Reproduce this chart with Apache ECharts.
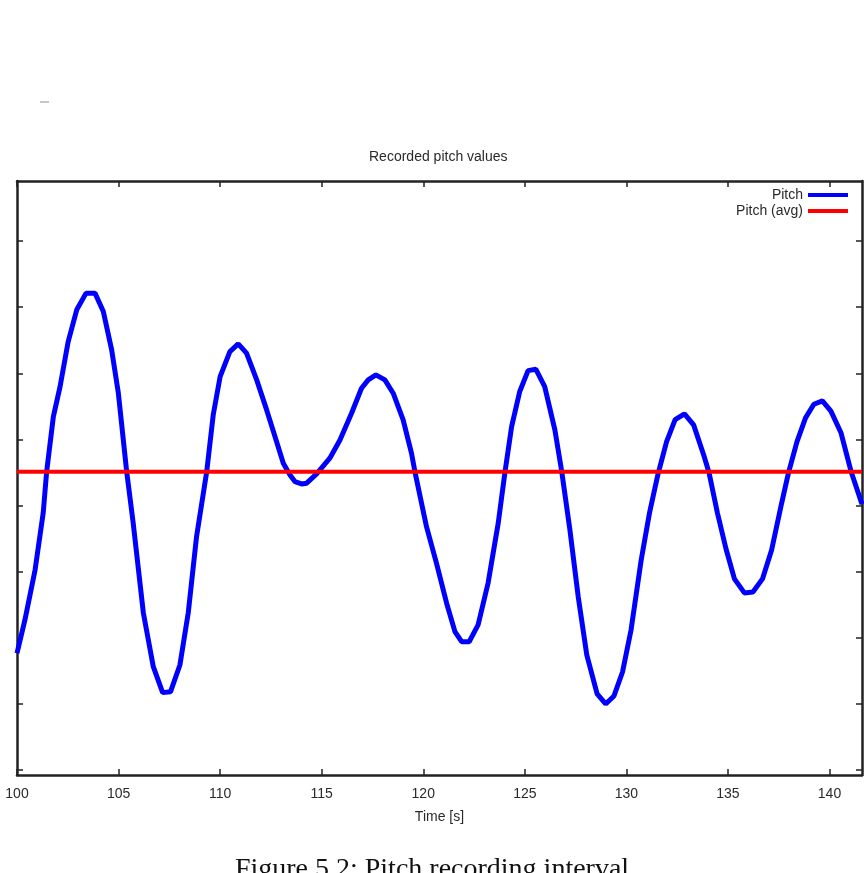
<!DOCTYPE html>
<html>
<head>
<meta charset="utf-8">
<title>Recorded pitch values</title>
<script src="https://cdn.jsdelivr.net/npm/echarts@6/dist/echarts.min.js"></script>
<style>
  html, body { margin: 0; padding: 0; background: #fff; }
  #chart { width: 864px; height: 873px; }
</style>
</head>
<body>
<div id="chart"></div>
<script>
// pitch samples (time in s, pitch in deg)
const timeS = [
  100.0, 100.39, 100.89, 101.29, 101.46, 101.79, 102.12, 102.52, 102.94, 103.4,
  103.84, 104.25, 104.66, 104.99, 105.4, 105.72, 106.22, 106.71, 107.17, 107.56,
  108.02, 108.43, 108.84, 109.34, 109.66, 110.0, 110.48, 110.89, 111.3, 111.8,
  112.29, 112.7, 113.11, 113.44, 113.68, 114.01, 114.26, 114.75, 115.4, 115.9,
  116.47, 116.96, 117.29, 117.67, 118.11, 118.52, 119.01, 119.42, 119.59, 120.16,
  120.65, 121.15, 121.56, 121.89, 122.26, 122.7, 123.19, 123.69, 124.02, 124.35,
  124.75, 125.16, 125.54, 125.98, 126.48, 126.82, 127.22, 127.63, 128.05, 128.56,
  128.98, 129.39, 129.81, 130.23, 130.73, 131.14, 131.56, 131.98, 132.4, 132.86,
  133.31, 133.81, 134.07, 134.48, 134.9, 135.32, 135.81, 136.23, 136.7, 137.15,
  137.65, 137.98, 138.4, 138.82, 139.23, 139.65, 140.07, 140.57, 141.07, 141.6
];
const pitch = [
  -11.17, -8.65, -4.87, -0.56, 2.56, 6.72, 8.99, 12.4, 14.8, 16.06,
  16.06, 14.67, 11.77, 8.49, 2.56, -1.32, -8.12, -12.19, -14.15, -14.08,
  -12.06, -8.12, -2.35, 2.56, 6.85, 9.75, 11.64, 12.22, 11.52, 9.5,
  7.23, 5.21, 3.2, 2.31, 1.81, 1.63, 1.69, 2.39, 3.58, 4.96,
  6.98, 8.87, 9.5, 9.88, 9.5, 8.49, 6.48, 3.96, 2.56, -1.6,
  -4.36, -7.39, -9.54, -10.3, -10.3, -9.03, -5.88, -1.34, 2.49, 5.97,
  8.62, 10.2, 10.31, 8.99, 5.72, 2.54, -1.85, -6.91, -11.3, -14.25,
  -15.01, -14.4, -12.59, -9.41, -4.11, -0.55, 2.4, 4.83, 6.5, 6.93,
  6.1, 3.8, 2.47, -0.55, -3.25, -5.55, -6.61, -6.54, -5.55, -3.37,
  0.22, 2.47, 4.83, 6.63, 7.66, 7.91, 7.14, 5.48, 2.53, 0.1
];
const pitchAvg = 2.56;
const xTicks = [100, 105, 110, 115, 120, 125, 130, 135, 140];
const yTicks = [-20, -15, -10, -5, 0, 5, 10, 15, 20];

const xMin = 100, xMax = 141.6;
const yMin = -20.38, yMax = 24.54;
const frameColor = '#222';
const textColor = '#2a2a2a';
const font = '"Liberation Sans", Arial, sans-serif';

const chart = echarts.init(document.getElementById('chart'));

const frameTick = { inside: true, length: 6, lineStyle: { color: frameColor, width: 1.5 } };
const frameLine = { show: true, onZero: false, lineStyle: { color: frameColor, width: 2.5 } };

chart.setOption({
  backgroundColor: '#fff',
  animation: false,
  title: {
    text: 'Recorded pitch values',
    left: 369,
    top: 150,
    padding: 0,
    textStyle: { fontFamily: font, fontSize: 14, fontWeight: 'normal', color: textColor }
  },
  legend: {
    data: ['Pitch', 'Pitch (avg)'],
    orient: 'vertical',
    align: 'right',
    right: 16,
    top: 188,
    padding: 0,
    itemGap: 2,
    itemWidth: 40,
    itemHeight: 4,
    icon: 'rect',
    textStyle: { fontFamily: font, fontSize: 14, color: textColor }
  },
  grid: { left: 17, top: 181, width: 845, height: 594 },
  xAxis: [
    {
      type: 'value', min: xMin, max: xMax,
      name: 'Time [s]', nameLocation: 'middle', nameGap: 35,
      nameTextStyle: { fontFamily: font, fontSize: 14, color: textColor },
      axisLine: frameLine,
      axisTick: Object.assign({ customValues: xTicks }, frameTick),
      axisLabel: { customValues: xTicks, margin: 12, fontFamily: font, fontSize: 14, color: textColor },
      splitLine: { show: false }
    },
    {
      type: 'value', min: xMin, max: xMax, position: 'top',
      axisLine: frameLine,
      axisTick: Object.assign({ customValues: xTicks }, frameTick),
      axisLabel: { show: false },
      splitLine: { show: false }
    }
  ],
  yAxis: [
    {
      type: 'value', min: yMin, max: yMax,
      axisLine: frameLine,
      axisTick: Object.assign({ customValues: yTicks }, frameTick),
      axisLabel: { show: false },
      splitLine: { show: false }
    },
    {
      type: 'value', min: yMin, max: yMax, position: 'right',
      axisLine: frameLine,
      axisTick: Object.assign({ customValues: yTicks }, frameTick),
      axisLabel: { show: false },
      splitLine: { show: false }
    }
  ],
  series: [
    {
      name: 'Pitch',
      type: 'line',
      data: timeS.map((t, i) => [t, pitch[i]]),
      showSymbol: false,
      lineStyle: { color: '#0000ff', width: 5 },
      itemStyle: { color: '#0000ff' }
    },
    {
      name: 'Pitch (avg)',
      type: 'line',
      data: [[xMin, pitchAvg], [xMax, pitchAvg]],
      showSymbol: false,
      lineStyle: { color: '#ff0000', width: 4 },
      itemStyle: { color: '#ff0000' }
    }
  ],
  graphic: [
    {
      type: 'line',
      shape: { x1: 40, y1: 102, x2: 49, y2: 102 },
      style: { stroke: '#8a8fa0', lineWidth: 1 }
    },
    {
      type: 'text',
      left: 'center',
      top: 856,
      style: {
        text: 'Figure 5.2: Pitch recording interval',
        font: '28px "Liberation Serif", "DejaVu Serif", serif',
        fill: '#111'
      }
    }
  ]
});
</script>
</body>
</html>
